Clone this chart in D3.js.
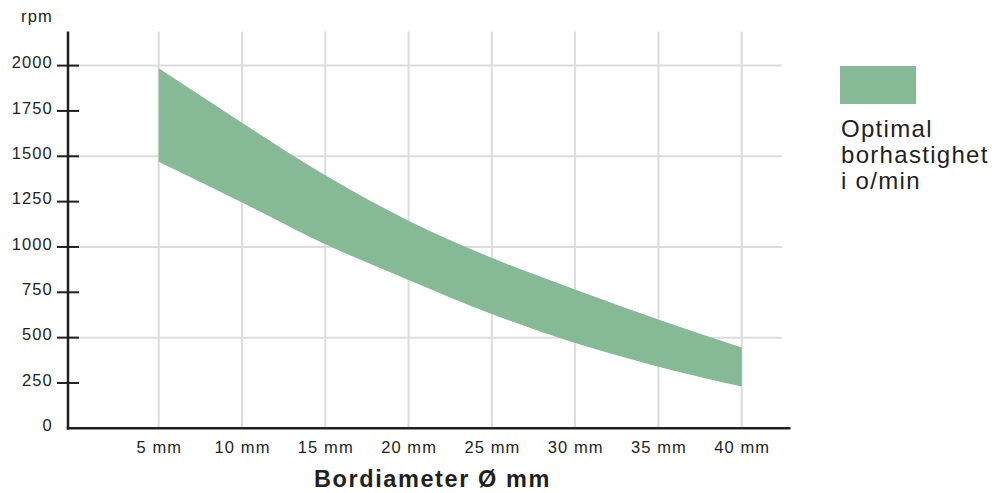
<!DOCTYPE html>
<html>
<head>
<meta charset="utf-8">
<script src="https://cdn.jsdelivr.net/npm/d3@7"></script>
<style>
  html, body { margin: 0; padding: 0; background: #fff; }
  svg { display: block; font-family: "Liberation Sans", Arial, Helvetica, sans-serif; }
</style>
</head>
<body>
<svg id="chart" width="992" height="493"></svg>
<script>
// ---- data ----
const diameters = [5, 10, 15, 20, 25, 30, 35, 40];
const upperRpm  = [1985, 1685, 1395, 1145, 940, 765, 600, 445];
const lowerRpm  = [1470, 1245, 1015, 818, 630, 470, 340, 230];
const xTickLabels = ["5 mm", "10 mm", "15 mm", "20 mm", "25 mm", "30 mm", "35 mm", "40 mm"];
const yTicks = [0, 250, 500, 750, 1000, 1250, 1500, 1750, 2000];
const yGrid = [500, 1000, 1500, 2000];
const legendLines = ["Optimal", "borhastighet", "i o/min"];
const yUnit = "rpm";
const xTitle = "Bordiameter Ø mm";

// ---- styles ----
const ink = "#231f20";
const gridColor = "#dcdcdc";
const bandColor = "#86ba96";

const svg = d3.select("#chart");
const x = d3.scaleLinear().domain([5, 40]).range([158.7, 741.7]);
const y = d3.scaleLinear().domain([0, 2000]).range([428.3, 65.6]);

const axisX0 = 68, axisTop = 31.5, axisRight = 790.5, gridRight = 782;

// grid
svg.append("g").selectAll("line.v").data(diameters).join("line")
  .attr("x1", d => x(d)).attr("x2", d => x(d))
  .attr("y1", axisTop).attr("y2", y(0))
  .attr("stroke", gridColor).attr("stroke-width", 2);
svg.append("g").selectAll("line.h").data(yGrid).join("line")
  .attr("x1", axisX0).attr("x2", gridRight)
  .attr("y1", d => y(d)).attr("y2", d => y(d))
  .attr("stroke", gridColor).attr("stroke-width", 2);

// band
const rows = diameters.map((d, i) => ({ d, lo: lowerRpm[i], hi: upperRpm[i] }));
const area = d3.area()
  .x(r => x(r.d)).y0(r => y(r.lo)).y1(r => y(r.hi))
  .curve(d3.curveMonotoneX);
svg.append("path").datum(rows).attr("d", area).attr("fill", bandColor);

// y axis
svg.append("line").attr("x1", axisX0).attr("x2", axisX0)
  .attr("y1", axisTop).attr("y2", y(0) + 1.2)
  .attr("stroke", ink).attr("stroke-width", 2.5);
svg.append("g").selectAll("line").data(yTicks.filter(v => v > 0)).join("line")
  .attr("x1", 57).attr("x2", 79)
  .attr("y1", d => y(d)).attr("y2", d => y(d))
  .attr("stroke", ink).attr("stroke-width", 2);
svg.append("g").selectAll("text").data(yTicks).join("text")
  .attr("x", 52.8).attr("y", d => y(d) + 2.6)
  .attr("text-anchor", "end")
  .attr("font-size", 16.5).attr("letter-spacing", 1.1)
  .attr("fill", ink).text(d => d);
svg.append("text").attr("x", 52.8).attr("y", 22)
  .attr("text-anchor", "end").attr("font-size", 16.5).attr("letter-spacing", 1.1)
  .attr("fill", ink).text(yUnit);

// x axis
svg.append("line").attr("x1", axisX0 - 1.2).attr("x2", axisRight)
  .attr("y1", y(0)).attr("y2", y(0))
  .attr("stroke", ink).attr("stroke-width", 2.5);
svg.append("g").selectAll("text").data(diameters).join("text")
  .attr("x", d => x(d) + 0.55).attr("y", 453.3)
  .attr("text-anchor", "middle").attr("font-size", 16.5).attr("letter-spacing", 1.1)
  .attr("fill", ink).text((d, i) => xTickLabels[i]);
svg.append("text").attr("x", 432.5).attr("y", 486.7)
  .attr("text-anchor", "middle").attr("font-size", 23.5).attr("font-weight", "bold")
  .attr("letter-spacing", 1.6).attr("fill", ink).text(xTitle);

// legend
svg.append("rect").attr("x", 840).attr("y", 66).attr("width", 76).attr("height", 38)
  .attr("fill", bandColor);
svg.append("g").selectAll("text").data(legendLines).join("text")
  .attr("x", 841).attr("y", (d, i) => 137.3 + i * 26)
  .attr("font-size", 24).attr("letter-spacing", 1.3)
  .attr("fill", ink).text(d => d);
</script>
</body>
</html>
